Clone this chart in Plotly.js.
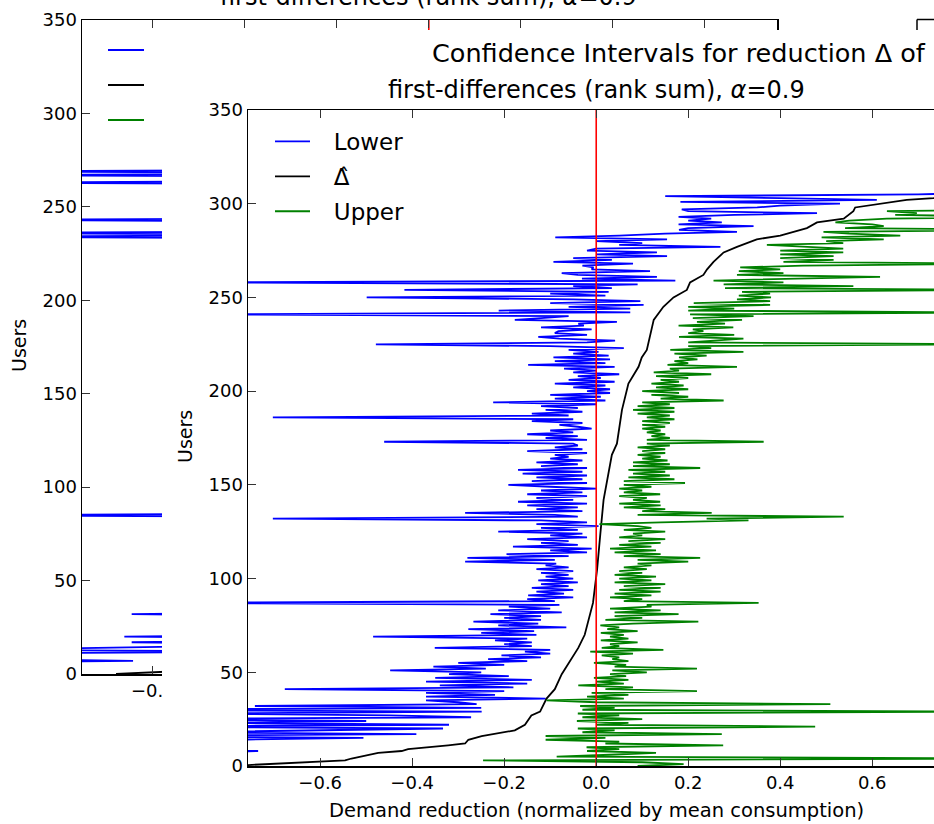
<!DOCTYPE html>
<html>
<head>
<meta charset="utf-8">
<script src="https://cdn.plot.ly/plotly-3.0.1.min.js"></script>
<style>html,body{margin:0;padding:0;background:#fff;}#chart{width:934px;height:824px;}</style>
</head>
<body>
<div id="chart"></div>
<script>
// ---------------- DATA (front figure) ----------------
const lower = [
-1.2,-0.95,-1.4,-0.9,-1.1,-0.85,-1.0,-0.9,-0.735,-1.0,
-0.85,-1.2,-0.9,-1.05,-0.8,-0.506,-1.1,-0.391,-0.9,-0.65,
-0.333,-1.0,-0.32,-0.85,-0.5,-1.05,-0.272,-0.45,-0.9,-0.249,
-1.1,-0.25,-0.742,-0.26,-0.30,-0.37,-0.11,-0.37,-0.22,-0.37,
-0.2,-0.677,-0.18,-0.34,-0.15,-0.37,-0.14,-0.35,-0.19,-0.32,
-0.25,-0.448,-0.24,-0.354,-0.2,-0.30,-0.15,-0.235,-0.12,-0.206,
-0.1,-0.155,-0.1,-0.351,-0.14,-0.2,-0.14,-0.22,-0.15,-0.485,
-0.13,-0.25,-0.135,-0.278,-0.065,-0.213,-0.126,-0.267,-0.12,-0.2,
-0.12,-0.23,-0.075,-0.213,-0.1,-0.19,-0.08,-0.95,-0.09,-0.15,
-0.05,-0.148,-0.07,-0.13,-0.05,-0.14,-0.06,-0.12,-0.04,-0.126,
-0.05,-0.11,-0.06,-0.12,-0.05,-0.13,-0.06,-0.11,-0.087,-0.285,
-0.09,-0.28,-0.06,-0.195,-0.02,-0.1,-0.01,-0.181,-0.04,-0.12,
-0.06,-0.15,-0.02,-0.1,-0.03,-0.213,-0.04,-0.12,0.005,-0.13,
-0.02,-0.12,-0.703,-0.04,-0.09,-0.285,-0.03,-0.13,-0.04,-0.15,
-0.02,-0.17,-0.05,-0.13,-0.02,-0.15,-0.03,-0.12,0.0,-0.1,
-0.191,-0.02,-0.14,-0.03,-0.13,-0.02,-0.16,-0.03,-0.17,-0.02,
-0.12,-0.04,-0.13,-0.03,-0.1,-0.06,-0.09,-0.02,-0.15,-0.03,
-0.09,-0.04,-0.05,-0.461,-0.02,-0.11,-0.04,-0.15,-0.05,-0.1,
-0.01,-0.04,-0.08,-0.03,-0.14,-0.05,-0.703,-0.06,-0.14,-0.03,
-0.11,-0.04,-0.12,0.0,-0.224,0.02,-0.09,0.01,-0.1,0.03,
-0.02,0.03,-0.05,0.02,-0.09,0.04,-0.06,0.01,-0.04,0.05,
-0.05,0.0,-0.07,0.04,-0.148,0.02,-0.09,0.03,-0.093,0.027,
-0.05,0.005,-0.06,0.06,-0.1,-0.479,-0.02,0.041,-0.08,-0.126,
-0.02,-0.09,-0.082,-0.01,-0.12,-0.027,-0.039,0.045,-0.177,-0.12,
-0.06,-0.85,0.074,-0.212,0.074,-0.06,0.103,-0.1,0.096,-0.05,
-0.499,0.02,-0.1,0.027,-0.417,0.034,-0.05,0.09,-0.85,0.172,
-0.031,0.132,-0.04,-0.075,0.117,-0.01,-0.006,-0.03,0.08,-0.093,
0.034,-0.05,0.154,0.0,0.132,-0.02,0.0,0.27,0.05,0.1,
0.0,0.154,-0.089,0.05,0.15,0.306,0.18,0.2,0.342,0.179,
0.273,0.2,0.25,0.179,0.3,0.48,0.2,0.186,0.35,0.4,
0.53,0.183,0.61,0.4,0.15,0.7,0.9
];
const upper = [
0.09,0.19,0.1,-0.246,0.95,-0.086,0.03,0.13,-0.02,0.05,
-0.021,0.276,0.02,0.05,-0.11,0.02,-0.11,0.273,-0.03,0.04,
-0.04,0.476,0.0,0.07,-0.042,0.1,-0.03,0.05,-0.04,0.85,
-0.03,0.04,-0.035,0.509,0.0,-0.108,0.06,-0.02,0.07,-0.01,
0.219,0.02,0.08,-0.039,0.06,0.0,0.07,-0.005,0.065,0.03,
0.11,0.035,0.219,0.04,0.065,-0.005,0.07,0.035,0.05,0.012,
0.08,-0.013,0.146,0.012,0.05,0.03,0.09,0.01,0.07,0.03,
0.06,0.01,0.09,0.024,0.05,0.009,0.08,0.222,0.02,0.1,
0.04,0.179,0.04,0.14,0.03,0.12,0.11,0.353,0.06,0.1,
0.03,0.12,0.04,0.14,0.05,0.14,0.06,0.15,0.04,0.12,
0.05,0.13,0.04,0.1,0.05,0.11,0.06,0.12,0.09,0.2,
0.09,0.226,0.06,0.14,0.04,0.13,0.03,0.12,0.05,0.14,
0.07,0.15,0.05,0.1,0.08,0.15,0.06,0.12,0.09,0.007,
0.14,0.331,0.24,0.538,0.09,0.251,0.1,0.15,0.06,0.14,
0.05,0.139,0.08,0.11,0.05,0.139,0.06,0.1,0.05,0.12,
0.06,0.193,0.06,0.17,0.07,0.16,0.08,0.15,0.07,0.226,
0.08,0.16,0.08,0.155,0.1,0.14,0.09,0.15,0.1,0.15,
0.09,0.16,0.11,0.364,0.11,0.16,0.12,0.15,0.11,0.14,
0.1,0.15,0.1,0.16,0.1,0.17,0.11,0.16,0.09,0.17,
0.08,0.17,0.09,0.16,0.1,0.277,0.14,0.2,0.12,0.18,
0.1,0.2,0.13,0.19,0.12,0.18,0.14,0.2,0.13,0.25,
0.125,0.18,0.16,0.306,0.155,0.2,0.17,0.22,0.18,0.24,
0.17,0.32,0.161,0.25,0.2,0.85,0.2,0.25,0.32,0.18,
0.3,0.2,0.233,0.21,0.298,0.179,0.28,0.219,0.317,0.21,
0.342,0.204,0.85,0.2,0.3,0.2,0.378,0.212,0.378,0.306,
0.38,0.31,0.378,0.317,0.9,0.28,0.559,0.277,0.407,0.255,
0.45,0.617,0.306,0.407,0.31,0.4,0.313,0.45,0.9,0.407,
0.516,0.4,0.516,0.4,0.537,0.4,0.537,0.45,0.371,0.537,
0.5,0.625,0.49,0.661,0.55,0.494,0.95,0.541,0.625,0.6,
0.52,0.55,0.632,0.95,0.65,0.697,0.632,0.95,0.95,1.0,
0.9,1.1,0.95,1.0,1.1,1.2,1.3
];
const deltaUsers = [0,2,3,4,7,8,9,11,12,14,16,19,22,27,29,36,41,49,57,63,70,78,87,95,105,124,142,166,172,190,204,213,218,222,228,238,245,250,254,258,262,265,269,274,277,281,283,284,287,290,292,296,298,302,303,306];
const deltaVals = [-0.80,-0.612,-0.546,-0.532,-0.474,-0.423,-0.409,-0.322,-0.285,-0.278,-0.249,-0.177,-0.155,-0.141,-0.122,-0.108,-0.090,-0.075,-0.054,-0.039,-0.025,-0.017,-0.007,-0.003,0.002,0.009,0.016,0.034,0.045,0.056,0.070,0.092,0.099,0.110,0.116,0.125,0.146,0.168,0.197,0.204,0.233,0.241,0.255,0.277,0.306,0.349,0.4,0.415,0.458,0.480,0.538,0.559,0.563,0.675,0.733,0.85];

// ---------------- DATA (figure behind, mostly hidden) ----------------
const backLowerUsers = [0,5,6,7,8,9,11,12,13,15,16,17,18,19,20,21,31,32,33,84,85,86,233,234,235,236,237,242,243,244,262,263,264,266,267,268,269,270,306];
const backLowerVals = [-1.0,-0.95,-1.1,-0.643,-0.9,-1.0,-0.95,-0.3,-1.0,-0.45,-0.3,-0.646,-0.3,-0.25,-0.662,-0.3,-0.3,-0.646,-0.3,-0.2,-1.0,-0.2,-0.1,-1.0,-0.1,-1.0,-0.1,-0.1,-1.0,-0.1,-0.1,-1.0,-0.1,-0.1,-1.0,-0.1,-1.0,-0.1,0.3];
const backDeltaUsers = [0,1,2,10,50,100,200,280,306];
const backDeltaVals = [-0.68,-0.60,-0.50,-0.3,-0.08,0.0,0.07,0.3,0.8];

const zeroX = [0, 0];
const zeroY = [0, 350];
const xTicks = [-0.6,-0.4,-0.2,0.0,0.2,0.4,0.6];
const yTicks = [0,50,100,150,200,250,300,350];
const legendNames = ['Lower', '\u0394\u0302', 'Upper'];

// ---------------- LAYOUT ----------------
const W = 934, H = 824;
const F = 'DejaVu Sans';
const px = v => v / W;
const py = v => (H - v) / H;
const users = lower.map((_, i) => i);
const pad = '\u2002\u00a0';

const axBase = {
  showgrid:false, zeroline:false, showline:true, linecolor:'#000', linewidth:1.5,
  ticks:'inside', ticklen:8, tickwidth:1, tickcolor:'#333', mirror:'ticks',
  tickfont:{family:F, size:18, color:'#000'}, fixedrange:true
};
const LW = 1.8;

const traces = [
  // back figure (subplot xy)
  {x:backLowerVals, y:backLowerUsers, xaxis:'x', yaxis:'y', mode:'lines', line:{color:'#0000ff', width:LW}, showlegend:false, hoverinfo:'skip'},
  {x:backDeltaVals, y:backDeltaUsers, xaxis:'x', yaxis:'y', mode:'lines', line:{color:'#000000', width:LW}, showlegend:false, hoverinfo:'skip'},
  {x:zeroX, y:zeroY, xaxis:'x', yaxis:'y', mode:'lines', line:{color:'#ff0000', width:1.6}, showlegend:false, hoverinfo:'skip'},
  // paper of the front figure (subplot x2y2), covers the figure behind
  {x:[], y:[], xaxis:'x2', yaxis:'y2', mode:'lines', showlegend:false, hoverinfo:'skip'},
  // front figure (subplot x3y3)
  {x:lower, y:users, xaxis:'x3', yaxis:'y3', mode:'lines', name:pad + legendNames[0], legendgroup:'a', line:{color:'#0000ff', width:LW}},
  {x:deltaVals, y:deltaUsers, xaxis:'x3', yaxis:'y3', mode:'lines', name:pad + legendNames[1], legendgroup:'b', line:{color:'#000000', width:LW}},
  {x:upper, y:users, xaxis:'x3', yaxis:'y3', mode:'lines', name:pad + legendNames[2], legendgroup:'c', line:{color:'#008000', width:LW}},
  {x:zeroX, y:zeroY, xaxis:'x3', yaxis:'y3', mode:'lines', line:{color:'#ff0000', width:1.6}, showlegend:false, hoverinfo:'skip'}
];

const layout = {
  width:W, height:H, margin:{l:0, r:0, t:0, b:0},
  paper_bgcolor:'#fff', plot_bgcolor:'#fff',
  font:{family:F, color:'#000'},
  xaxis:Object.assign({}, axBase, {domain:[px(82), px(777)], range:[-0.754, 0.757], tickvals:xTicks, tickformat:'.1f', anchor:'y'}),
  yaxis:Object.assign({}, axBase, {domain:[py(674), py(20)], range:[0, 350], tickvals:yTicks, anchor:'x'}),
  xaxis2:{domain:[px(162), 1], range:[0, 1], visible:false, anchor:'y2', fixedrange:true},
  yaxis2:{domain:[0, py(30)], range:[0, 1], visible:false, anchor:'x2', fixedrange:true},
  xaxis3:Object.assign({}, axBase, {domain:[px(248), 1], range:[-0.757, -0.757 + (934 - 248) / 460], tickvals:xTicks, tickformat:'.1f', anchor:'y3'}),
  yaxis3:Object.assign({}, axBase, {domain:[py(766), py(110)], range:[0, 350], tickvals:yTicks, anchor:'x3', mirror:false}),
  showlegend:true,
  legend:{x:px(270), y:py(120), xanchor:'left', yanchor:'top', bgcolor:'rgba(0,0,0,0)', borderwidth:0,
          font:{family:F, size:23, color:'#000'}, tracegroupgap:2, traceorder:'grouped', itemwidth:35},
  annotations:[
    {xref:'paper', yref:'paper', x:px(430), y:py(53), xanchor:'left', yanchor:'middle', showarrow:false,
     text:'Confidence Intervals for reduction \u0394 of', font:{family:F, size:25.5, color:'#000'}},
    {xref:'paper', yref:'paper', x:px(596), y:py(90), xanchor:'center', yanchor:'middle', showarrow:false,
     text:'first-differences (rank sum), <i>\u03b1</i>=0.9', font:{family:F, size:24, color:'#000'}},
    {xref:'paper', yref:'paper', x:px(428), y:py(-3), xanchor:'center', yanchor:'middle', showarrow:false,
     text:'first-differences (rank sum), <i>\u03b1</i>=0.9', font:{family:F, size:24, color:'#000'}},
    {xref:'paper', yref:'paper', x:px(596), y:py(810), xanchor:'center', yanchor:'middle', showarrow:false,
     text:'Demand reduction (normalized by mean consumption)', font:{family:F, size:19.5, color:'#000'}},
    {xref:'paper', yref:'paper', x:px(185), y:py(437), xanchor:'center', yanchor:'middle', showarrow:false, textangle:-90,
     text:'Users', font:{family:F, size:19, color:'#000'}},
    {xref:'paper', yref:'paper', x:px(19), y:py(346), xanchor:'center', yanchor:'middle', showarrow:false, textangle:-90,
     text:'Users', font:{family:F, size:19, color:'#000'}}
  ],
  shapes:[
    // legend swatches of the figure behind (its labels are hidden)
    {type:'line', xref:'paper', yref:'paper', x0:px(108), x1:px(144), y0:py(50), y1:py(50), line:{color:'#0000ff', width:2}, layer:'above'},
    {type:'line', xref:'paper', yref:'paper', x0:px(108), x1:px(144), y0:py(85), y1:py(85), line:{color:'#000000', width:2}, layer:'above'},
    {type:'line', xref:'paper', yref:'paper', x0:px(108), x1:px(144), y0:py(120), y1:py(120), line:{color:'#008000', width:2}, layer:'above'},
    // corner of another figure far behind
    {type:'line', xref:'paper', yref:'paper', x0:px(917), x1:1, y0:py(19.5), y1:py(19.5), line:{color:'#000', width:1.5}, layer:'above'},
    {type:'line', xref:'paper', yref:'paper', x0:px(917), x1:px(917), y0:py(19.5), y1:py(30), line:{color:'#000', width:1.5}, layer:'above'}
  ]
};

Plotly.newPlot('chart', traces, layout, {displayModeBar:false, staticPlot:true});
</script>
</body>
</html>
